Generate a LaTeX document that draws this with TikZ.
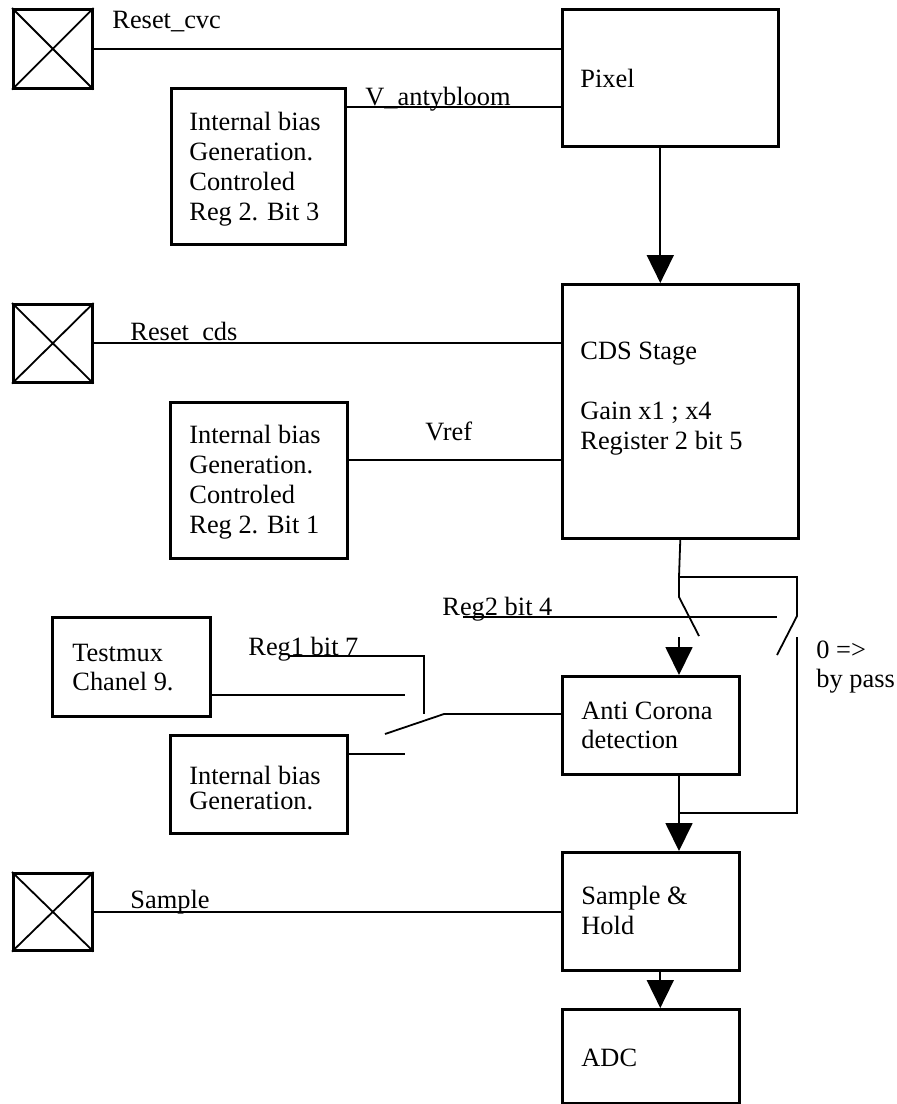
\documentclass[tikz,border=0pt]{standalone}
\usepackage{fontspec}
\setmainfont{Liberation Serif}
\usetikzlibrary{arrows.meta}
\begin{document}
\begin{tikzpicture}[x=0.5pt,y=-0.5pt,
  blk/.style={draw, line width=1.3pt, inner sep=0, anchor=north west, rectangle},
  wire/.style={line width=0.9pt},
  cross/.style={line width=0.9pt},
  arr/.style={wire, -{Triangle[length=14pt,width=13.5pt]}},
  txt/.style={inner sep=0, anchor=north west, align=left, font=\fontsize{13.2}{15}\selectfont},
  txtb/.style={inner sep=0, anchor=north west, align=left, font=\fontsize{13.2}{14.5}\selectfont},
  txtc/.style={inner sep=0, anchor=north west, align=left, font=\fontsize{13.2}{12.5}\selectfont},
  lbl/.style={inner sep=0, anchor=base west, font=\fontsize{13.2}{15}\selectfont}]
\useasboundingbox (0,0) rectangle (896,1104);

% boxes
\node[blk, minimum width=39.5pt, minimum height=39.5pt] (pad1) at (12,8) {};
\node[blk, minimum width=108pt, minimum height=68.5pt] (pixel) at (561,8) {};
\node[blk, minimum width=87pt, minimum height=78pt] (bias1) at (170,87) {};
\node[blk, minimum width=39.5pt, minimum height=39pt] (pad2) at (12,303) {};
\node[blk, minimum width=118pt, minimum height=127pt] (cds) at (561,283) {};
\node[blk, minimum width=88.5pt, minimum height=78pt] (bias2) at (169,401) {};
\node[blk, minimum width=79pt, minimum height=49.5pt] (testmux) at (51,616) {};
\node[blk, minimum width=88.5pt, minimum height=49pt] (bias3) at (169,734) {};
\node[blk, minimum width=88.5pt, minimum height=49pt] (anti) at (561,675) {};
\node[blk, minimum width=39.5pt, minimum height=38.5pt] (pad3) at (12,872) {};
\node[blk, minimum width=88.5pt, minimum height=59pt] (sh) at (561,851) {};
\node[blk, minimum width=88.5pt, minimum height=47pt] (adc) at (561,1008) {};

% pad crosses
\foreach \p in {pad1,pad2,pad3}{
  \draw[cross] (\p.north west) -- (\p.south east) (\p.north east) -- (\p.south west);
}

% box texts
\node[txt] (tpixel) at (580,66) {\strut Pixel};
\node[txt] (tbias1) at (189,109) {\strut Internal bias\\Generation.\\Controled\\Reg 2. Bit 3};
\node[txt] (tcds) at (580,338) {\strut CDS Stage\\\strut\\Gain x1 ; x4\\Register 2 bit 5};
\node[txt] (tbias2) at (189,422) {\strut Internal bias\\Generation.\\Controled\\Reg 2. Bit 1};
\node[txtb] (ttest) at (72,640.7) {\strut Testmux\\Chanel 9.};
\node[txtc] (tbias3) at (189,765.5) {\strut Internal bias\\Generation.};
\node[txtb] (tanti) at (581,698.7) {\strut Anti Corona\\detection};
\node[txt] (tsh) at (581,883) {\strut Sample \&\\Hold};
\node[txt] (tadc) at (581,1045) {\strut ADC};

% labels
\node[lbl] (lcvc) at (112,28) {Reset\_cvc};
\node[lbl] (lanty) at (365,105) {V\_antybloom};
\node[lbl] (lcds) at (130,340) {Reset\_cds};
\node[lbl] (lvref) at (425,440) {Vref};
\node[lbl] (lreg2) at (442,615) {Reg2 bit 4};
\node[lbl] (lreg1) at (248,655) {Reg1 bit 7};
\node[txtb] (lbypass) at (816,637.7) {\strut 0 =>\\by pass};
\node[lbl] (lsample) at (130,908) {Sample};

% top section
\draw[wire] (pad1.east) -- (pad1.east -| pixel.west);
\draw[wire] ([yshift=-10pt]bias1.north east) -- ([yshift=-10pt]bias1.north east -| pixel.west);
\draw[arr] ([xshift=-5pt]pixel.south) -- ([xshift=-5pt]pixel.south |- cds.north);

% CDS section
\draw[wire] (pad2.east) -- (pad2.east -| cds.west);
\draw[wire] ([yshift=-29.5pt]bias2.north east) -- ([yshift=-29.5pt]bias2.north east -| cds.west);

% switches after CDS
\coordinate (split) at (679,577);
\coordinate (swAtop) at (679,597);
\coordinate (swAend) at (699,636);
\coordinate (swBtop) at (797,616);
\coordinate (swBend) at (777,655);
\coordinate (bpA) at (679,637);
\coordinate (bpB) at (797,637);
\coordinate (join) at (679,813);
\draw[wire] (cds.south) -- (split) -- (swAtop) -- (swAend);
\draw[wire] (split) -- (split -| swBtop) -- (swBtop) -- (swBend);
\draw[arr] (bpA) -- (bpA |- anti.north);
\draw[wire] (bpB) -- (bpB |- join) -- (join);
\draw[wire] (anti.south -| join) -- (join);
\draw[arr] (join) -- (join |- sh.north);

% Reg2 control line
\coordinate (r2a) at (463,617);
\coordinate (r2b) at (777,617);
\draw[wire] (r2a) -- (r2b);

% input mux
\coordinate (tmEnd) at (405,695);
\coordinate (b3End) at (405,754);
\coordinate (sw1a) at (385,734);
\coordinate (sw1b) at (444,714);
\draw[wire] (testmux.east |- tmEnd) -- (tmEnd);
\draw[wire] (bias3.east |- b3End) -- (b3End);
\draw[wire] (sw1a) -- (sw1b) -- (sw1b -| anti.west);
\coordinate (r1a) at (288,656);
\coordinate (r1b) at (424,656);
\coordinate (r1c) at (424,714);
\draw[wire] (r1a) -- (r1b) -- (r1c);

% bottom
\draw[wire] (pad3.east) -- (pad3.east -| sh.west);
\draw[arr] ([xshift=4.75pt]sh.south) -- ([xshift=4.75pt]sh.south |- adc.north);
\end{tikzpicture}
\end{document}
